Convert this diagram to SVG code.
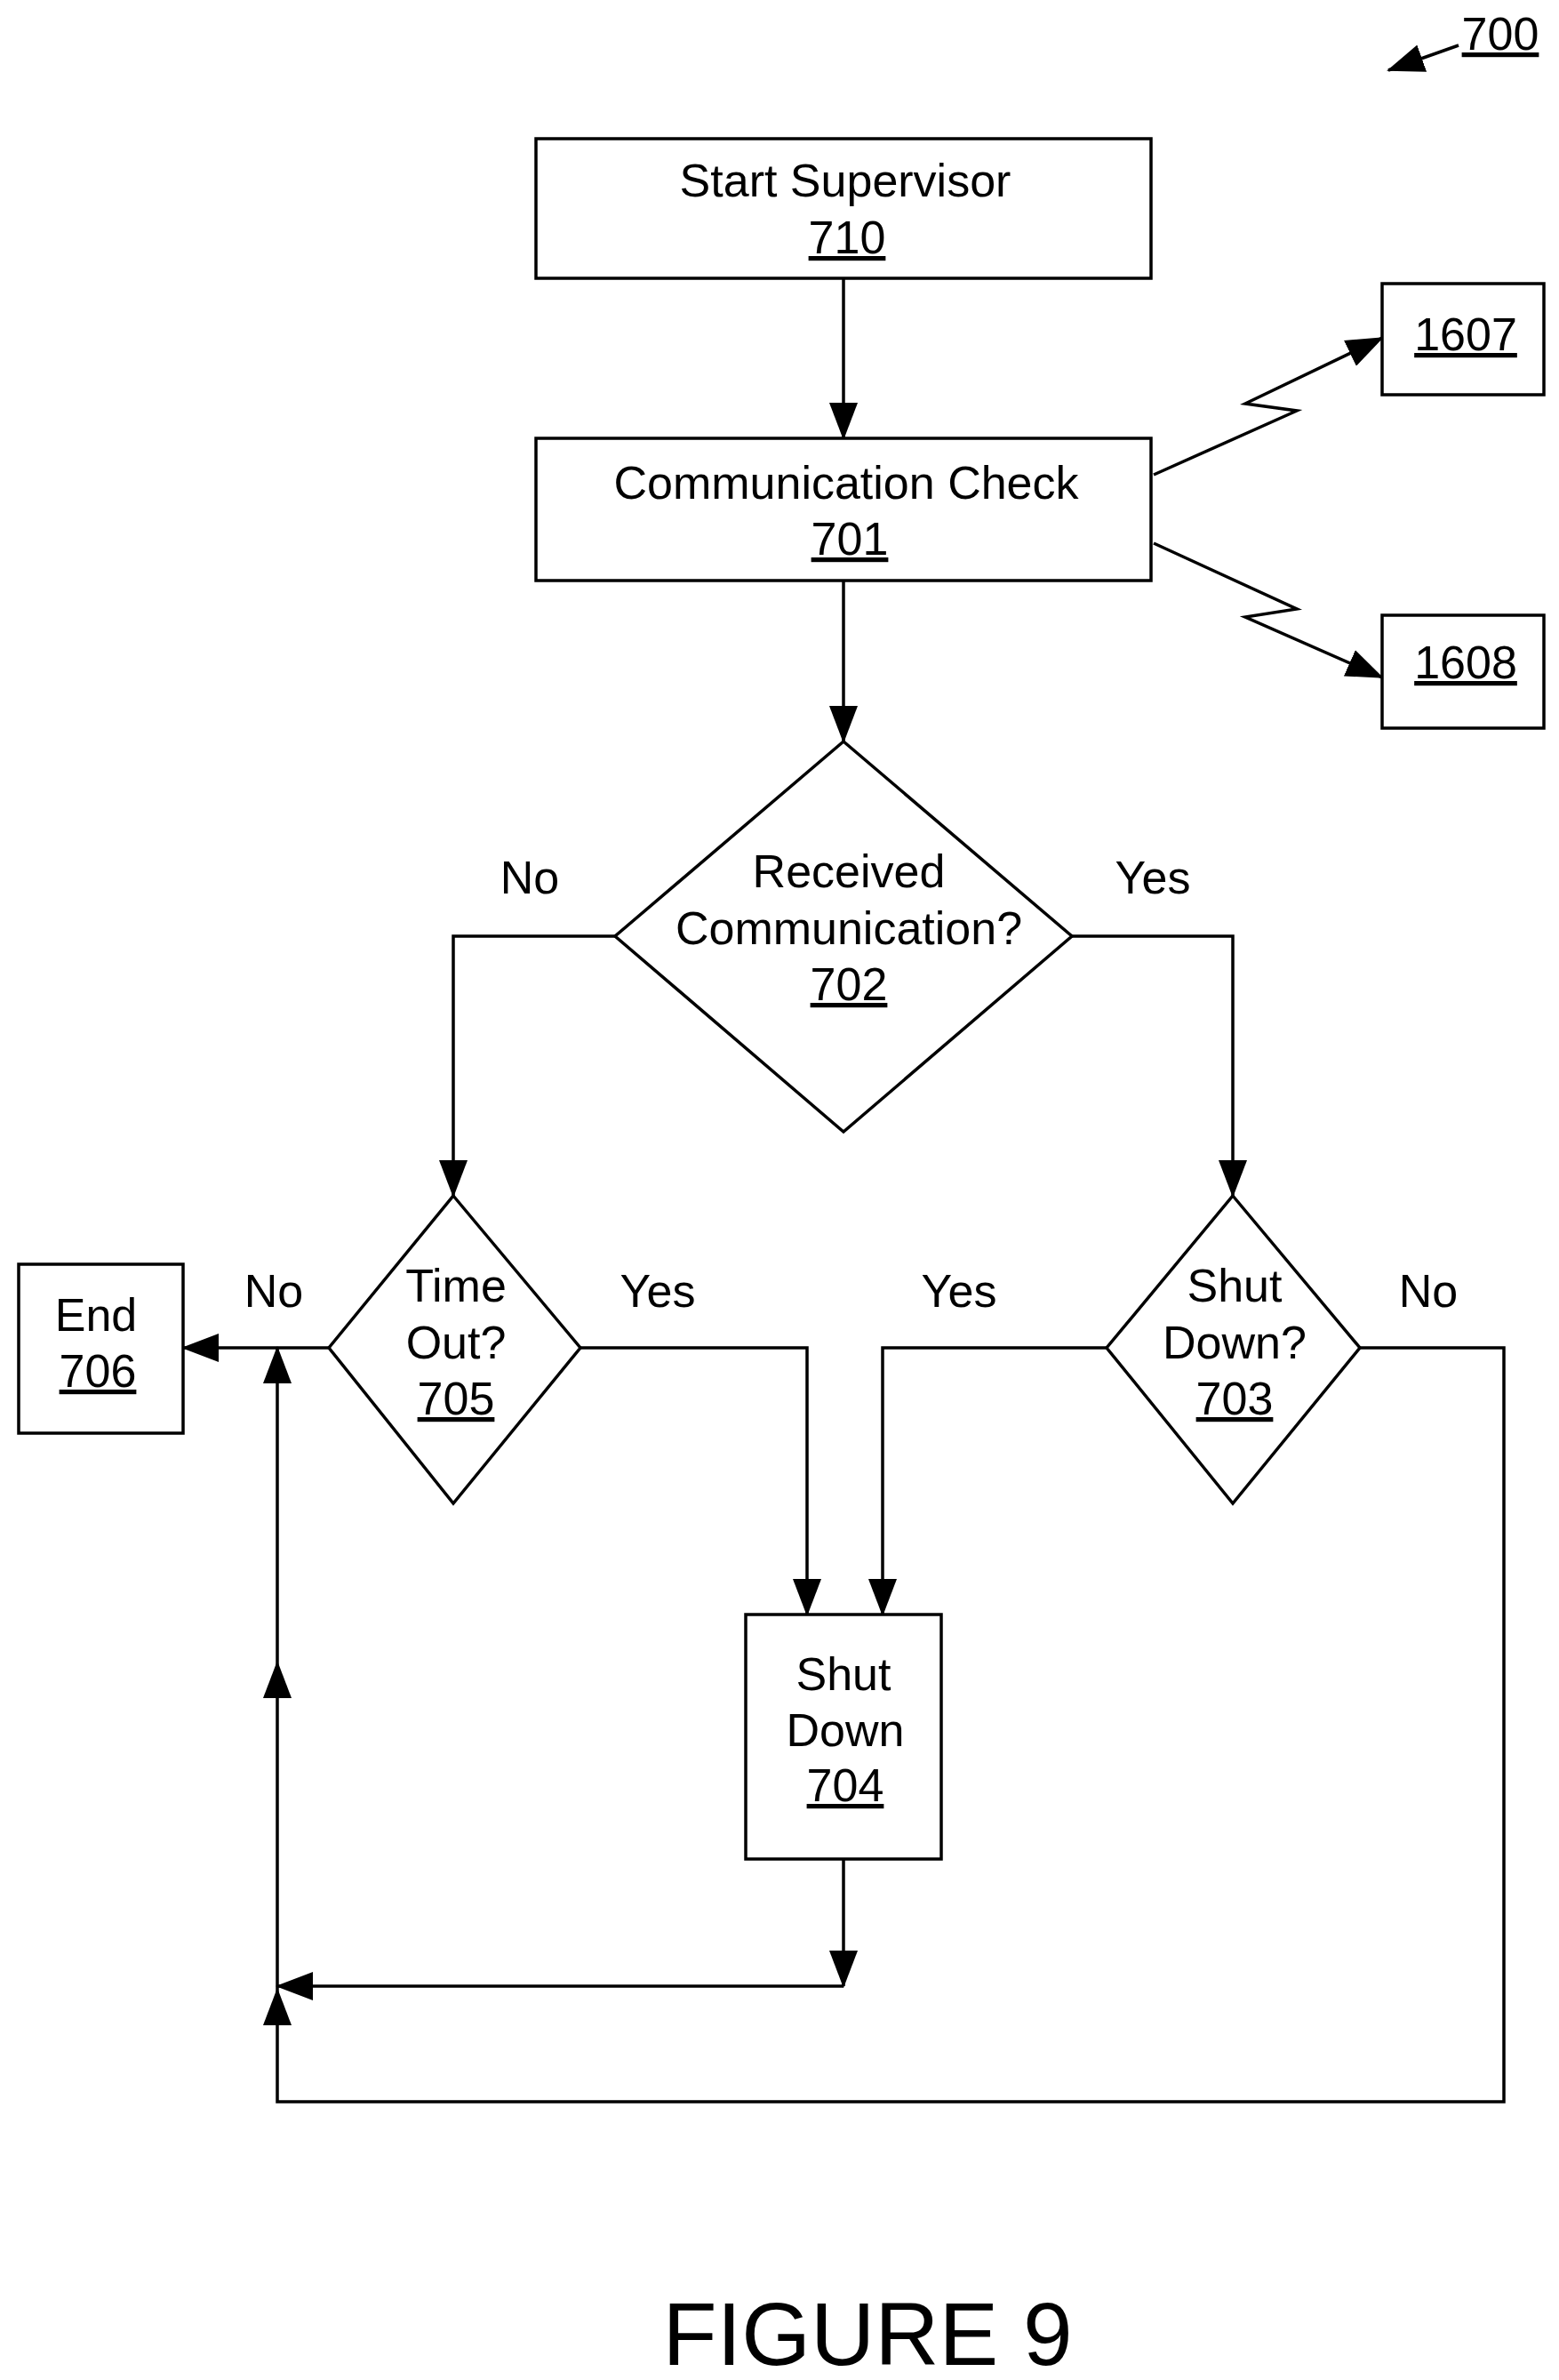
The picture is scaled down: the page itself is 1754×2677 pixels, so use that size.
<svg xmlns="http://www.w3.org/2000/svg" width="1754" height="2677" viewBox="0 0 1754 2677">
<style>
.b{fill:#fff;stroke:#000;stroke-width:3.5}
.c{fill:none;stroke:#000;stroke-width:3.5}
text{font-family:"Liberation Sans",Arial,sans-serif;font-size:52px;text-anchor:middle;fill:#000}
.u{text-decoration:underline}
</style>
<defs>
<marker id="a" markerUnits="userSpaceOnUse" markerWidth="42" markerHeight="32" refX="40" refY="16" orient="auto"><path d="M0,0 L42,16 L0,32 Z" fill="#000"/></marker>
</defs>
<rect width="1754" height="2677" fill="#fff"/>
<g id="connectors">
<path class="c" d="M949,313 V493" marker-end="url(#a)"/>
<path class="c" d="M949,653 V834" marker-end="url(#a)"/>
<path class="c" d="M692,1053 H510 V1345" marker-end="url(#a)"/>
<path class="c" d="M1206,1053 H1387 V1345" marker-end="url(#a)"/>
<path class="c" d="M370,1516 H206" marker-end="url(#a)"/>
<path class="c" d="M653,1516 H908 V1816" marker-end="url(#a)"/>
<path class="c" d="M1245,1516 H993 V1816" marker-end="url(#a)"/>
<path class="c" d="M949,2091 V2234" marker-end="url(#a)"/>
<path class="c" d="M949,2234 H312" marker-end="url(#a)"/>
<path class="c" d="M1530,1516 H1692 V2364 H312 V2238" marker-end="url(#a)"/>
<path class="c" d="M312,2238 V1870" marker-end="url(#a)"/>
<path class="c" d="M312,1870 V1516" marker-end="url(#a)"/>
<path class="c" d="M1298,534 L1459,462 L1401,454 L1555,380" marker-end="url(#a)"/>
<path class="c" d="M1298,611 L1459,685 L1401,694 L1555,762" marker-end="url(#a)"/>
<path class="c" d="M1641,51 L1562,79" marker-end="url(#a)"/>
</g>
<g id="n710"><rect class="b" x="603" y="156" width="692" height="157"/><text x="951" y="221">Start Supervisor</text><text class="u" x="953" y="285">710</text></g>
<g id="n701"><rect class="b" x="603" y="493" width="692" height="160"/><text x="952" y="561">Communication Check</text><text class="u" x="956" y="624">701</text></g>
<g id="n702"><polygon class="b" points="949,834 1206,1053 949,1273 692,1053"/><text x="955" y="998">Received</text><text x="955" y="1062">Communication?</text><text class="u" x="955" y="1125">702</text></g>
<g id="n705"><polygon class="b" points="510,1345 653,1516 510,1691 370,1516"/><text x="513" y="1464">Time</text><text x="513" y="1528">Out?</text><text class="u" x="513" y="1591">705</text></g>
<g id="n703"><polygon class="b" points="1387,1345 1530,1516 1387,1691 1245,1516"/><text x="1389" y="1464">Shut</text><text x="1389" y="1528">Down?</text><text class="u" x="1389" y="1591">703</text></g>
<g id="n706"><rect class="b" x="21" y="1422" width="185" height="190"/><text x="108" y="1497">End</text><text class="u" x="110" y="1560">706</text></g>
<g id="n704"><rect class="b" x="839" y="1816" width="220" height="275"/><text x="949" y="1901">Shut</text><text x="951" y="1964">Down</text><text class="u" x="951" y="2026">704</text></g>
<g id="n1607"><rect class="b" x="1555" y="319" width="182" height="125"/><text class="u" x="1649" y="394">1607</text></g>
<g id="n1608"><rect class="b" x="1555" y="692" width="182" height="127"/><text class="u" x="1649" y="763">1608</text></g>
<g id="labels">
<text x="596" y="1005">No</text><text x="1297" y="1005">Yes</text>
<text x="308" y="1470">No</text><text x="740" y="1470">Yes</text>
<text x="1079" y="1470">Yes</text><text x="1607" y="1470">No</text>
<text class="u" x="1688" y="56">700</text>
<text x="976" y="2660" style="font-size:100px">FIGURE 9</text>
</g>
</svg>
